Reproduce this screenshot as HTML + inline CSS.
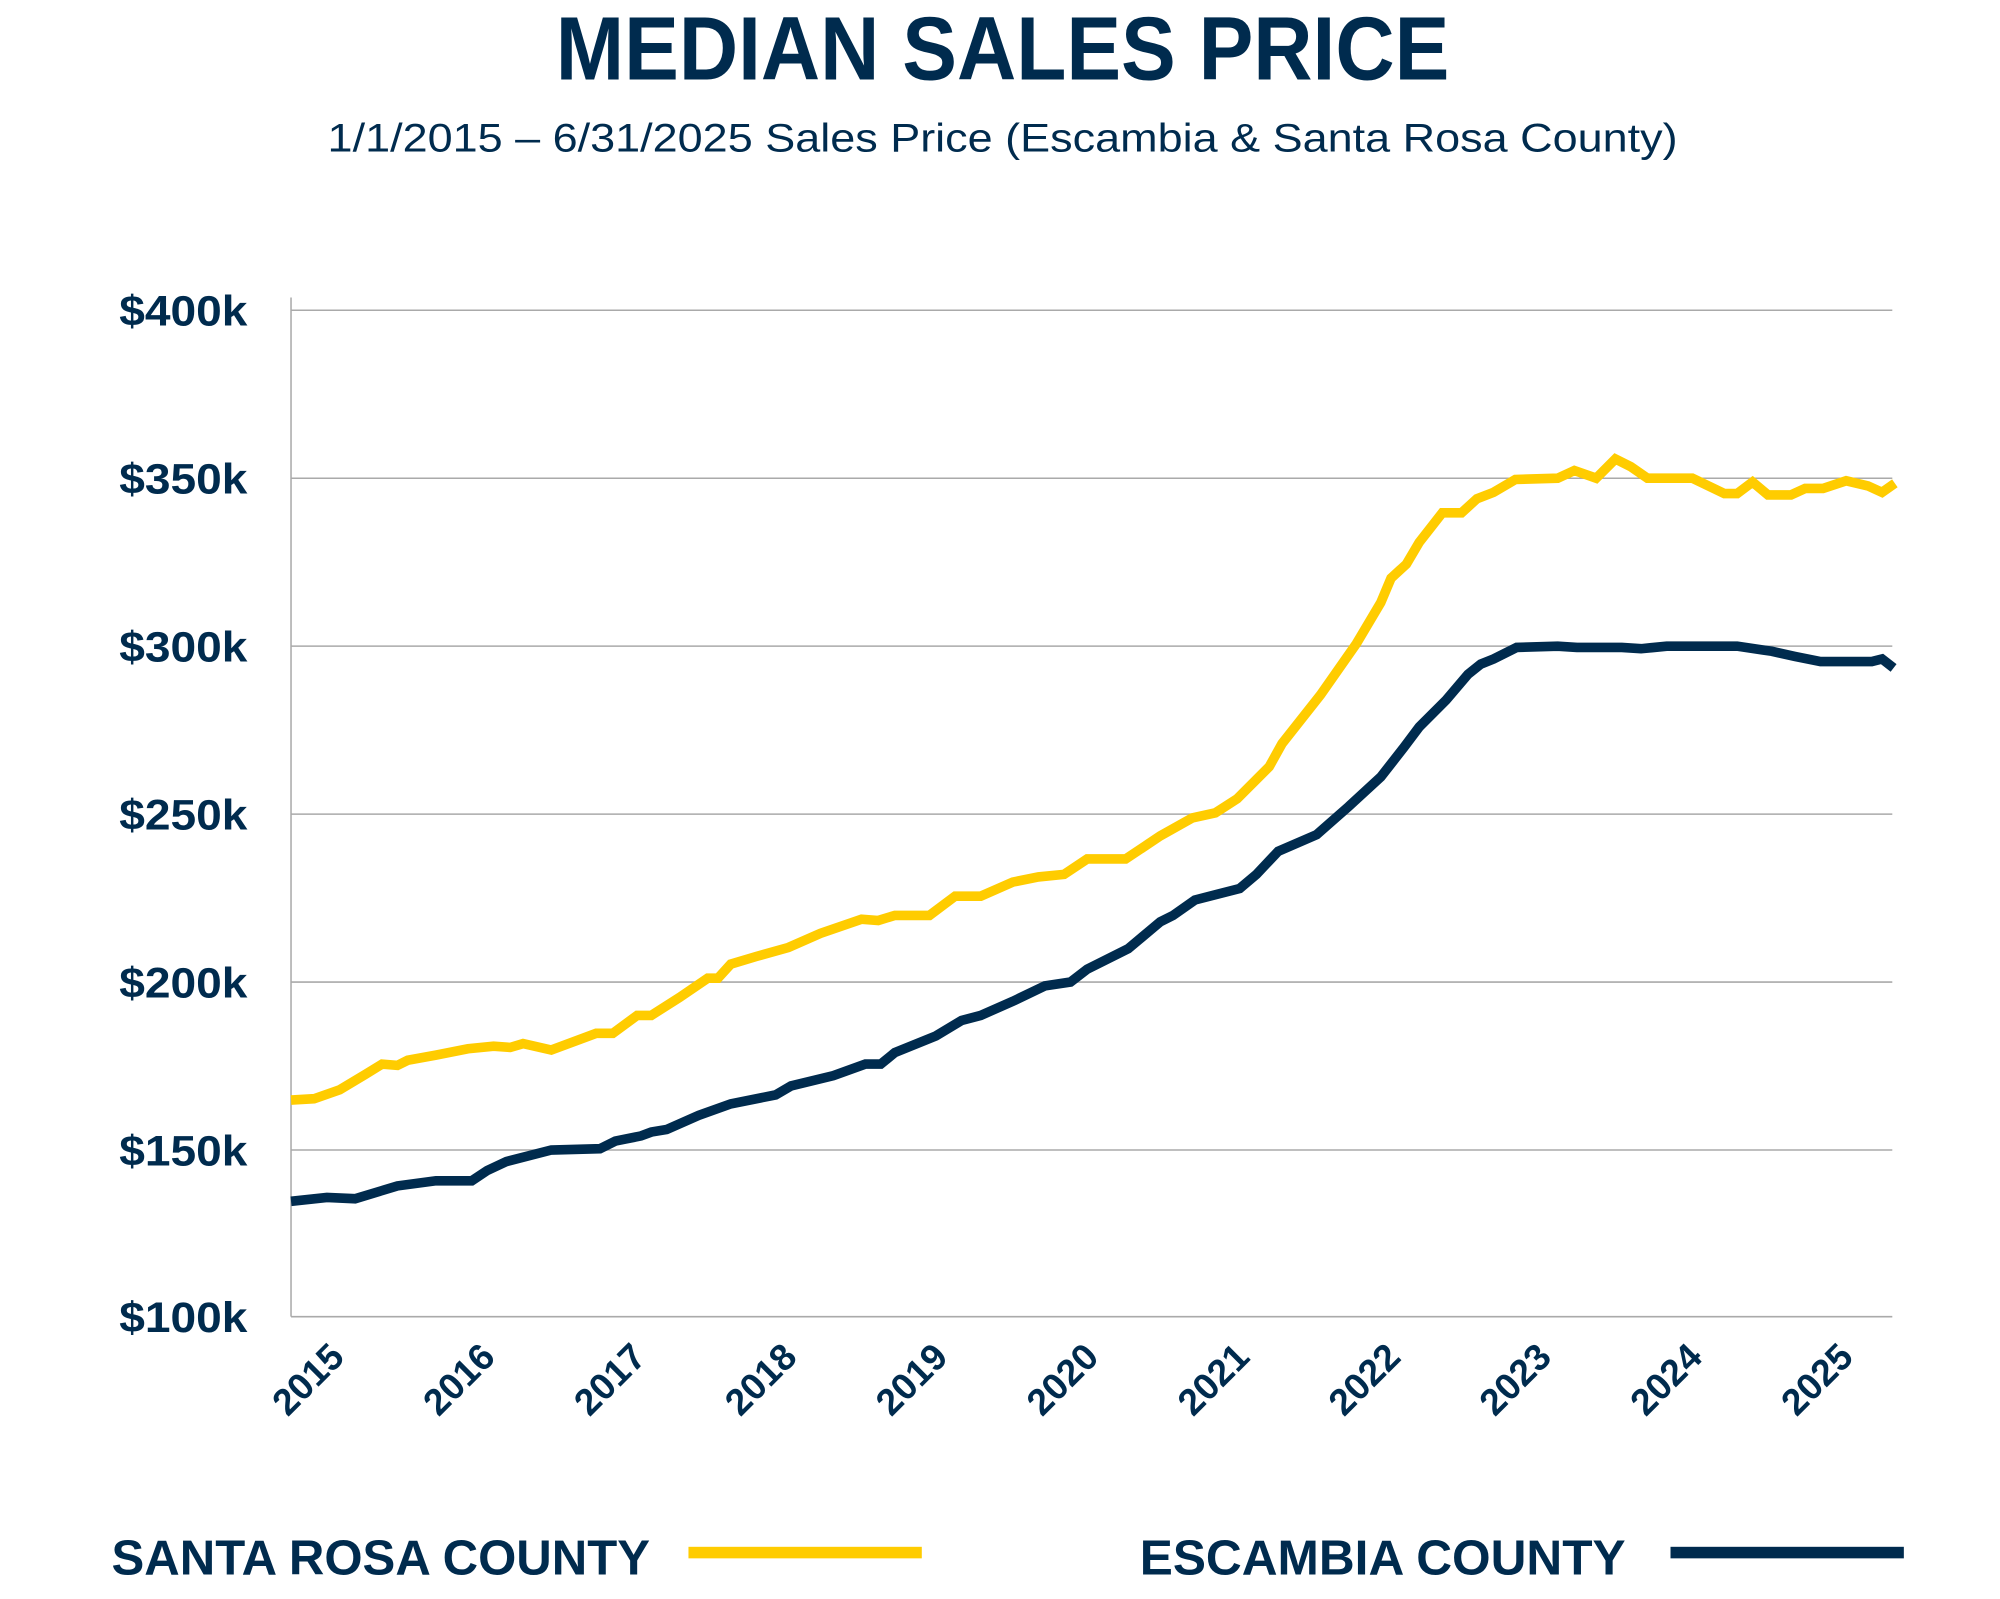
<!DOCTYPE html>
<html><head><meta charset="utf-8"><style>html,body{margin:0;padding:0;background:#fff}svg{display:block}</style></head><body>
<svg width="2000" height="1599" viewBox="0 0 1560 1247.2" xmlns="http://www.w3.org/2000/svg" font-family="Liberation Sans, sans-serif">
<g fill="#002b4e">
<text x="782" y="62" text-anchor="middle" font-size="70" font-weight="bold" textLength="697" lengthAdjust="spacingAndGlyphs">MEDIAN SALES PRICE</text>
<text x="782" y="118" text-anchor="middle" font-size="31" textLength="1053" lengthAdjust="spacingAndGlyphs">1/1/2015 – 6/31/2025  Sales Price (Escambia &amp; Santa Rosa County)</text>
<g font-size="33" font-weight="bold" text-anchor="end">
<text x="193" y="254" textLength="100" lengthAdjust="spacingAndGlyphs">$400k</text><text x="193" y="385" textLength="100" lengthAdjust="spacingAndGlyphs">$350k</text><text x="193" y="516" textLength="100" lengthAdjust="spacingAndGlyphs">$300k</text><text x="193" y="647" textLength="100" lengthAdjust="spacingAndGlyphs">$250k</text><text x="193" y="778" textLength="100" lengthAdjust="spacingAndGlyphs">$200k</text><text x="193" y="909" textLength="100" lengthAdjust="spacingAndGlyphs">$150k</text><text x="193" y="1039" textLength="100" lengthAdjust="spacingAndGlyphs">$100k</text>
</g>
<g font-size="29" font-weight="bold" text-anchor="end">
<text transform="translate(270,1060) rotate(-45)">2015</text>
<text transform="translate(387.7,1060) rotate(-45)">2016</text>
<text transform="translate(505.4,1060) rotate(-45)">2017</text>
<text transform="translate(623.1,1060) rotate(-45)">2018</text>
<text transform="translate(740.8,1060) rotate(-45)">2019</text>
<text transform="translate(858.5,1060) rotate(-45)">2020</text>
<text transform="translate(976.2,1060) rotate(-45)">2021</text>
<text transform="translate(1093.9,1060) rotate(-45)">2022</text>
<text transform="translate(1211.6,1060) rotate(-45)">2023</text>
<text transform="translate(1329.3,1060) rotate(-45)">2024</text>
<text transform="translate(1447,1060) rotate(-45)">2025</text>
</g>
<text x="87" y="1228" font-size="38" font-weight="bold" textLength="420" lengthAdjust="spacingAndGlyphs">SANTA ROSA COUNTY</text>
<text x="889" y="1228" font-size="38" font-weight="bold" textLength="379" lengthAdjust="spacingAndGlyphs">ESCAMBIA COUNTY</text>
</g>
<rect x="537" y="1206.5" width="182" height="9" fill="#ffcc00"/>
<rect x="1303" y="1206.5" width="182" height="9" fill="#002b4e"/>
<g stroke="#aaaaaa" stroke-width="1.2">
<line x1="227" y1="242" x2="1476" y2="242"/><line x1="227" y1="373" x2="1476" y2="373"/><line x1="227" y1="504" x2="1476" y2="504"/><line x1="227" y1="635" x2="1476" y2="635"/><line x1="227" y1="766" x2="1476" y2="766"/><line x1="227" y1="897" x2="1476" y2="897"/><line x1="227" y1="1027" x2="1476" y2="1027"/>
<line x1="227" y1="232" x2="227" y2="1027"/>
</g>
<polyline fill="none" stroke="#ffcc00" stroke-width="7.5" points="227,858 245,857 265,850 285,838 298,830 310,831 318,827 340,823 365,818 385,816 398,817 408,814 430,819 465,806 478,806 497,792 508,792 530,778 552,763 560,763 570,752 590,746 615,739 640,728 672,717 685,718 698,714 725,714 745,699 765,699 790,688 810,684 830,682 848,670 878,670 905,652 930,638 948,634 965,623 990,598 1000,580 1030,542 1058,502 1077,470 1085,451 1097,440 1107,423 1125,400 1140,400 1152,389 1165,384 1182,374 1215,373 1228,367 1245,373 1260,358 1272,364 1285,373 1320,373 1345,385 1355,385 1367,376 1379,386 1397,386 1408,381 1422,381 1440,375 1457,379 1468,384 1478,377"/>
<polyline fill="none" stroke="#002b4e" stroke-width="7.5" points="227,937 255,934 277,935 310,925 340,921 368,921 380,913 395,906 430,897 468,896 480,890 500,886 508,883 520,881 545,870 570,861 605,854 617,847 650,839 675,830 687,830 698,821 730,808 750,796 765,792 790,781 815,769 835,766 848,756 880,740 905,719 915,714 932,702 967,693 980,682 997,664 1027,651 1052,629 1077,606 1095,583 1107,567 1128,546 1145,526 1155,518 1165,514 1183,505 1215,504 1230,505 1265,505 1280,506 1300,504 1355,504 1375,507 1382,508 1400,512 1420,516 1445,516 1460,516 1468,514 1477,521"/>
</svg>
</body></html>
